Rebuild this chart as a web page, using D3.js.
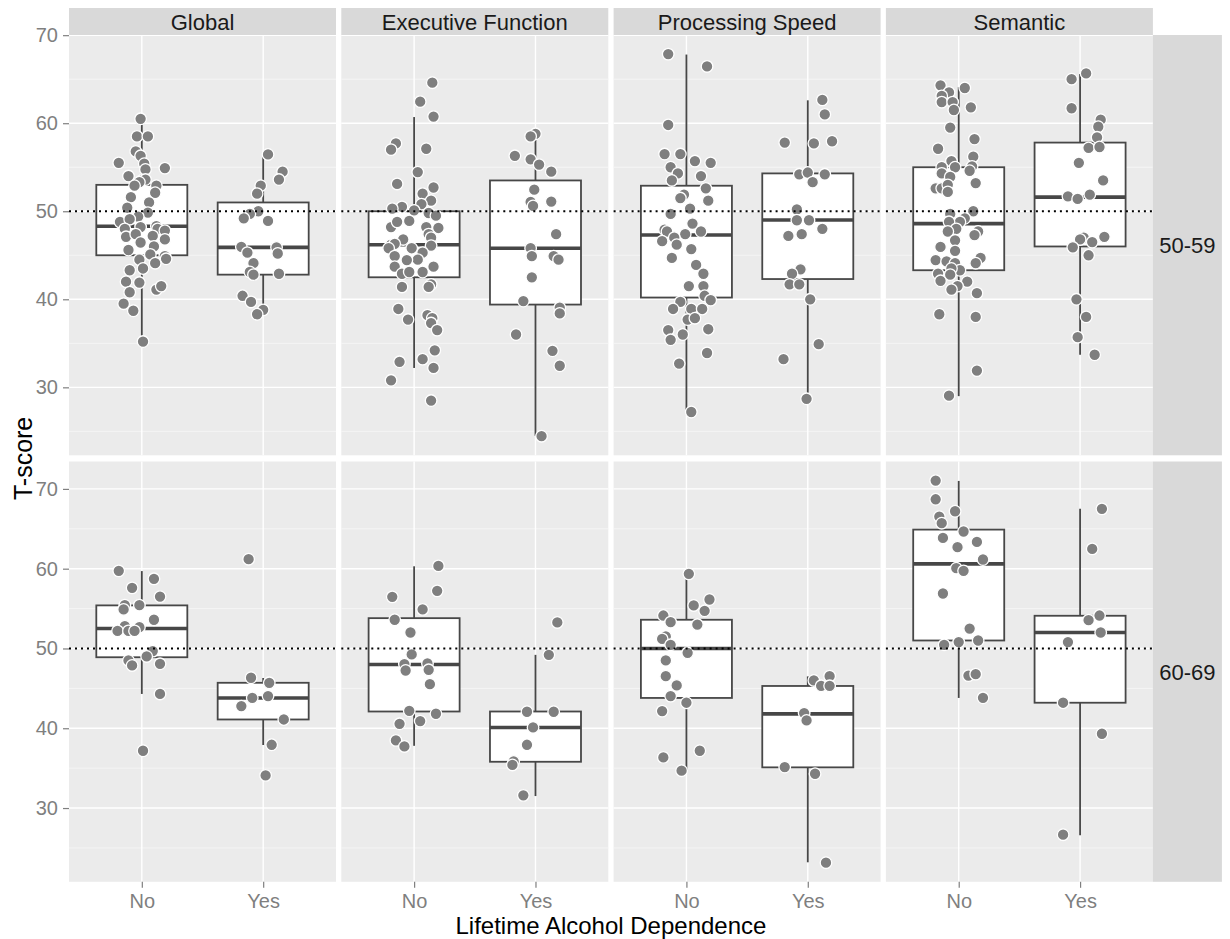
<!DOCTYPE html>
<html>
<head>
<meta charset="utf-8">
<script src="https://d3js.org/d3.v7.min.js"></script>
<style>
body { margin: 0; background: #fff; }
svg text { font-family: "Liberation Sans", Arial, Helvetica, sans-serif; }
</style>
</head>
<body>
<svg id="chart" width="1230" height="939"></svg>
<script>

var domains = ["Global", "Executive Function", "Processing Speed", "Semantic"];
var ageGroups = ["50-59", "60-69"];
var dependence = ["No", "Yes"];
var yTicks = [30, 40, 50, 60, 70];
var yMinorTicks = [25, 35, 45, 55, 65, 75];
var referenceScore = 50;

// box stats, domain by domain, No then Yes: [lower whisker, q1, median, q3, upper whisker]
var boxes5059 = [
    [35.2, 45.0, 48.3, 53.0, 60.5], [38.3, 42.8, 45.9, 51.0, 56.4],
    [32.2, 42.5, 46.2, 50.0, 60.7], [24.5, 39.4, 45.8, 53.5, 58.8],
    [27.2, 40.2, 47.3, 52.9, 67.8], [28.7, 42.3, 49.0, 54.3, 62.6],
    [29.0, 43.3, 48.6, 55.0, 64.1], [33.7, 46.0, 51.6, 57.8, 65.6]
];
var boxes6069 = [
    [44.3, 48.9, 52.5, 55.4, 59.7], [37.9, 41.1, 43.8, 45.7, 46.3],
    [37.8, 42.1, 48.0, 53.8, 60.3], [31.5, 35.8, 40.1, 42.1, 49.2],
    [34.8, 43.8, 50.0, 53.6, 59.3], [23.2, 35.1, 41.8, 45.3, 46.5],
    [43.8, 51.0, 60.6, 64.9, 71.0], [26.6, 43.2, 52.0, 54.1, 67.5]
];

// jittered subjects: [jitter, T-score]
var global5059No = [[-0.01,60.5],[-0.04,58.5],[0.05,58.5],[-0.05,56.8],[-0.01,56.3],[-0.19,55.5],[0.19,54.9],
    [0.02,55.4],[0.03,54.75],[-0.11,54.0],[0.0,53.5],[0.03,53.6],[-0.02,53.3],[0.12,52.9],[0.11,52.1],[-0.06,52.9],
    [-0.09,51.6],[0.06,51.0],[-0.12,50.4],[0.05,49.85],[-0.03,49.4],[-0.18,48.8],[-0.10,49.1],[-0.01,48.2],[-0.14,48.0],
    [0.12,48.3],[0.13,48.0],[0.19,47.8],[-0.13,47.1],[-0.05,47.4],[0.09,47.2],[0.19,46.8],[-0.01,46.45],[0.10,46.0],
    [-0.11,45.6],[0.07,45.1],[0.19,44.9],[0.20,44.6],[-0.02,44.5],[0.11,44.1],[0.01,43.5],[-0.10,43.3],[-0.13,42.0],
    [-0.02,41.9],[0.12,41.1],[0.16,41.5],[-0.10,40.8],[-0.15,39.5],[-0.07,38.7],[0.01,35.2]];
var global5059Yes = [[0.04,56.45],[0.16,54.5],[0.13,53.6],[-0.02,52.9],[-0.05,52.0],[-0.04,50.0],[-0.11,49.7],
    [-0.16,49.2],[0.04,48.9],[-0.18,45.96],[0.11,45.9],[0.12,45.2],[-0.13,45.3],[-0.08,44.1],[-0.11,43.1],[-0.08,42.8],
    [0.13,42.9],[-0.17,40.4],[-0.10,39.7],[0.0,38.8],[-0.05,38.3]];
var exec5059No = [[0.15,64.6],[0.05,62.45],[0.16,60.75],[-0.15,57.7],[-0.19,57.0],[0.10,57.1],[0.03,54.45],
    [-0.14,53.1],[0.16,52.7],[0.07,52.0],[0.14,51.2],[0.06,50.8],[-0.10,50.5],[-0.18,50.3],[0.0,50.1],[0.12,49.8],
    [0.18,49.5],[-0.04,48.9],[-0.19,48.2],[-0.14,48.8],[0.10,48.2],[0.20,48.1],[0.12,47.4],[0.14,47.0],[-0.09,46.8],
    [-0.19,46.2],[-0.16,46.3],[0.14,46.1],[-0.21,45.8],[-0.02,45.8],[0.07,45.3],[-0.16,44.9],[0.03,44.5],[-0.06,44.45],
    [-0.16,43.7],[0.16,43.7],[-0.10,42.9],[-0.04,43.1],[0.07,43.1],[0.14,41.7],[0.12,41.4],[-0.10,41.4],[-0.13,38.9],
    [-0.05,37.7],[0.11,38.2],[0.15,37.85],[0.14,37.3],[0.19,36.5],[0.17,34.2],[-0.12,32.9],[0.07,33.2],[0.16,32.2],
    [-0.19,30.8],[0.14,28.5]];
var exec5059Yes = [[0.0,58.8],[-0.04,58.5],[-0.17,56.3],[-0.04,55.9],[0.03,55.3],[0.13,54.5],[-0.01,52.45],
    [-0.04,51.05],[-0.02,50.6],[0.13,51.1],[0.17,47.4],[-0.04,45.8],[-0.03,44.9],[0.15,44.9],[0.19,44.5],[-0.03,42.5],
    [-0.10,39.8],[0.20,39.05],[0.20,38.4],[-0.16,36.0],[0.14,34.15],[0.20,32.45],[0.05,24.45]];
var speed5059No = [[-0.15,67.85],[0.17,66.45],[-0.15,59.8],[-0.18,56.5],[-0.05,56.5],[0.07,55.7],[0.20,55.5],
    [-0.13,55.0],[-0.07,54.3],[0.12,54.0],[-0.12,53.5],[0.16,52.6],[-0.02,51.9],[-0.05,51.5],[0.18,51.2],[0.03,50.3],
    [-0.13,49.7],[0.05,48.6],[-0.18,47.9],[-0.16,47.7],[-0.01,47.4],[0.12,47.7],[-0.10,47.0],[-0.20,46.6],[-0.08,46.2],
    [0.04,45.7],[-0.12,44.7],[0.08,43.9],[0.14,42.9],[0.02,41.5],[0.14,41.5],[0.15,40.4],[0.20,39.9],[-0.05,39.7],
    [-0.11,38.9],[0.04,38.9],[0.13,38.9],[0.01,37.7],[0.07,37.85],[-0.15,36.5],[-0.03,36.0],[0.18,36.6],[-0.13,35.4],
    [0.17,33.9],[-0.06,32.7],[0.04,27.2]];
var speed5059Yes = [[0.12,62.65],[0.14,61.0],[-0.19,57.8],[0.05,57.7],[0.20,57.95],[-0.07,54.2],[0.0,54.4],
    [0.14,54.2],[0.04,53.3],[-0.09,50.2],[-0.09,48.98],[0.01,48.98],[0.12,48.0],[-0.16,47.2],[-0.05,47.4],[-0.06,43.4],
    [-0.13,42.9],[-0.15,41.7],[-0.07,41.7],[0.02,40.0],[0.09,34.9],[-0.20,33.2],[-0.01,28.7]];
var semantic5059No = [[-0.15,64.3],[0.05,64.0],[-0.08,63.5],[-0.14,63.1],[-0.14,62.4],[-0.05,62.4],[-0.04,61.5],
    [0.10,61.8],[-0.07,59.5],[0.13,58.2],[-0.17,57.1],[0.12,56.2],[-0.06,55.7],[-0.03,55.0],[-0.14,55.0],[0.11,55.1],
    [0.09,54.6],[-0.14,54.3],[-0.07,53.9],[0.14,53.2],[-0.19,52.6],[-0.14,52.6],[-0.09,53.0],[-0.09,52.2],[-0.07,49.7],
    [0.12,50.0],[0.05,49.2],[0.01,48.8],[-0.08,48.8],[-0.02,48.0],[-0.09,47.7],[0.16,47.7],[0.13,47.3],[-0.03,46.7],
    [-0.15,45.95],[-0.03,45.5],[-0.19,44.45],[-0.10,44.3],[-0.03,44.1],[0.18,44.7],[0.14,44.1],[0.01,43.3],[-0.06,43.5],
    [-0.17,42.9],[-0.15,42.1],[-0.07,42.8],[0.07,42.0],[-0.01,41.5],[-0.06,41.1],[0.15,40.7],[-0.16,38.3],[0.14,38.0],
    [0.15,31.9],[-0.08,29.05]];
var semantic5059Yes = [[0.05,65.65],[-0.07,65.0],[-0.07,61.7],[0.17,60.4],[0.15,59.6],[0.14,58.4],[0.07,57.2],
    [0.16,57.3],[-0.01,55.5],[0.19,53.5],[-0.10,51.7],[0.08,51.9],[-0.02,51.4],[0.03,47.0],[0.0,46.8],[0.10,46.5],
    [0.20,47.1],[-0.06,45.9],[0.07,45.0],[-0.03,40.0],[0.05,38.0],[-0.02,35.7],[0.12,33.7]];

var global6069No = [[-0.19,59.73],[0.10,58.73],[-0.08,57.6],[0.15,56.5],[-0.14,55.43],[-0.02,55.43],[-0.15,54.9],
    [0.10,53.6],[-0.14,52.8],[-0.02,52.67],[-0.20,52.2],[-0.11,52.2],[-0.06,52.2],[0.09,49.67],[0.04,49.0],
    [-0.11,48.5],[-0.08,47.87],[0.15,48.08],[0.15,44.3],[0.01,37.18]];
var global6069Yes = [[-0.12,61.19],[-0.10,46.33],[0.05,45.7],[-0.09,43.82],[0.04,44.03],[-0.18,42.78],
    [0.17,41.1],[0.07,37.93],[0.02,34.09]];
var exec6069No = [[0.20,60.35],[0.19,57.22],[-0.18,56.47],[0.07,54.9],[-0.16,53.6],[-0.03,52.0],[-0.02,49.25],
    [-0.08,48.04],[0.11,48.12],[-0.07,47.24],[0.12,47.33],[0.13,45.53],[-0.04,42.19],[0.18,41.82],[-0.12,40.56],
    [0.05,40.9],[-0.15,38.48],[-0.08,37.72]];
var exec6069Yes = [[0.18,53.26],[0.11,49.2],[-0.07,42.07],[0.15,42.07],[-0.02,40.1],[-0.07,37.93],[-0.18,35.85],
    [-0.19,35.4],[-0.10,31.59]];
var speed6069No = [[0.02,59.35],[0.19,56.14],[0.06,55.39],[0.15,54.72],[-0.19,54.13],[-0.13,53.3],[0.09,53.0],
    [-0.17,51.5],[-0.20,51.2],[-0.13,50.46],[0.01,49.46],[-0.17,48.5],[-0.17,46.53],[-0.08,45.37],[-0.13,44.03],
    [0.0,43.2],[-0.20,42.15],[0.11,37.18],[-0.19,36.35],[-0.04,34.68]];
var speed6069Yes = [[0.05,45.99],[0.18,46.53],[0.11,45.32],[0.18,45.32],[-0.03,41.9],[-0.01,40.98],[-0.19,35.14],
    [0.06,34.3],[0.15,23.15]];
var semantic6069No = [[-0.19,71.04],[-0.19,68.7],[-0.03,67.2],[-0.16,66.53],[-0.14,65.7],[0.04,64.66],[-0.13,63.86],
    [0.15,63.36],[-0.01,62.7],[0.20,61.15],[-0.02,60.06],[0.04,59.73],[-0.13,56.89],[0.09,52.5],[-0.12,50.46],
    [0.0,50.8],[0.16,51.0],[0.08,46.6],[0.14,46.78],[0.20,43.82]];
var semantic6069Yes = [[0.18,67.5],[0.10,62.48],[0.16,54.13],[0.07,53.55],[0.17,52.0],[-0.10,50.8],[-0.14,43.2],
    [0.18,39.31],[-0.14,26.66]];

// rows of the facet grid
var rows = [
    {age: ageGroups[0], boxes: boxes5059, points: [global5059No, global5059Yes, exec5059No, exec5059Yes,
        speed5059No, speed5059Yes, semantic5059No, semantic5059Yes]},
    {age: ageGroups[1], boxes: boxes6069, points: [global6069No, global6069Yes, exec6069No, exec6069Yes,
        speed6069No, speed6069Yes, semantic6069No, semantic6069Yes]}
];

var panelLeft = 69, panelW = 267, panelGap = 5.3;
var rowTop = [35, 461.5], rowH = 420.3;
var stripTop = 8, stripH = 27;
var stripRightW = 69;
var greyText = "#7f7f7f", boxLine = "#474747";

var svg = d3.select("#chart");

var x = d3.scalePoint().domain(dependence).range([0, panelW]).padding(0.6);
var step = x.step();

function panelX(i) {
    return panelLeft + i * (panelW + panelGap);
}

rows.forEach(function (row, r) {
    // free y scale per row, ggplot style 5% expansion
    var all = [];
    row.points.forEach(function (p) { p.forEach(function (d) { all.push(d[1]); }); });
    row.boxes.forEach(function (b) { all.push(b[0], b[4]); });
    var ext = d3.extent(all);
    var pad = (ext[1] - ext[0]) * 0.05;
    var y = d3.scaleLinear().domain([ext[0] - pad, ext[1] + pad]).range([rowH, 0]);

    domains.forEach(function (dom, c) {
        var g = svg.append("g").attr("transform", "translate(" + panelX(c) + "," + rowTop[r] + ")");

        g.append("rect").attr("width", panelW).attr("height", rowH).attr("fill", "#ebebeb");

        g.selectAll(".minor").data(yMinorTicks.filter(function (t) { return y(t) > 0 && y(t) < rowH; }))
            .enter().append("line")
            .attr("x1", 0).attr("x2", panelW)
            .attr("y1", function (t) { return y(t); }).attr("y2", function (t) { return y(t); })
            .attr("stroke", "#f7f7f7").attr("stroke-width", 0.8);

        g.selectAll(".major").data(yTicks)
            .enter().append("line")
            .attr("x1", 0).attr("x2", panelW)
            .attr("y1", function (t) { return y(t); }).attr("y2", function (t) { return y(t); })
            .attr("stroke", "#fff").attr("stroke-width", 1.4);

        g.selectAll(".vmajor").data(dependence)
            .enter().append("line")
            .attr("x1", function (d) { return x(d); }).attr("x2", function (d) { return x(d); })
            .attr("y1", 0).attr("y2", rowH)
            .attr("stroke", "#fff").attr("stroke-width", 1.4);

        // boxplots
        dependence.forEach(function (grp, k) {
            var b = row.boxes[c * 2 + k];
            var cx = x(grp), half = step * 0.75 / 2;
            g.append("line").attr("x1", cx).attr("x2", cx).attr("y1", y(b[4])).attr("y2", y(b[3]))
                .attr("stroke", boxLine).attr("stroke-width", 1.8);
            g.append("line").attr("x1", cx).attr("x2", cx).attr("y1", y(b[1])).attr("y2", y(b[0]))
                .attr("stroke", boxLine).attr("stroke-width", 1.8);
            g.append("rect").attr("x", cx - half).attr("width", half * 2)
                .attr("y", y(b[3])).attr("height", y(b[1]) - y(b[3]))
                .attr("fill", "#fff").attr("stroke", boxLine).attr("stroke-width", 1.8);
            g.append("line").attr("x1", cx - half).attr("x2", cx + half).attr("y1", y(b[2])).attr("y2", y(b[2]))
                .attr("stroke", boxLine).attr("stroke-width", 3.6);
        });

        // jittered points
        dependence.forEach(function (grp, k) {
            g.selectAll(".pt" + k).data(row.points[c * 2 + k])
                .enter().append("circle")
                .attr("cx", function (d) { return x(grp) + d[0] * step; })
                .attr("cy", function (d) { return y(d[1]); })
                .attr("r", 5.8)
                .attr("fill", "#7f7f7f").attr("stroke", "#fff").attr("stroke-width", 1.3);
        });

        g.append("line").attr("x1", 0).attr("x2", panelW)
            .attr("y1", y(referenceScore)).attr("y2", y(referenceScore))
            .attr("stroke", "#000").attr("stroke-width", 2).attr("stroke-dasharray", "2,4");
    });

    // y axis
    var ay = svg.append("g").attr("transform", "translate(" + panelLeft + "," + rowTop[r] + ")")
        .call(d3.axisLeft(y).tickValues(yTicks).tickSize(6).tickPadding(5));
    ay.select(".domain").remove();
    ay.selectAll("line").attr("stroke", greyText).attr("stroke-width", 1.2);
    ay.selectAll("text").attr("fill", greyText).style("font-size", "20px")
        .style("font-family", "'Liberation Sans', Arial, sans-serif");

    // row strip
    var rx = panelX(domains.length - 1) + panelW;
    svg.append("rect").attr("x", rx).attr("y", rowTop[r]).attr("width", stripRightW).attr("height", rowH)
        .attr("fill", "#d9d9d9");
    svg.append("text").attr("x", rx + stripRightW / 2).attr("y", rowTop[r] + rowH / 2 + 8)
        .attr("text-anchor", "middle").style("font-size", "22px").attr("fill", "#1a1a1a").text(row.age);
});

// column strips and x axes
domains.forEach(function (dom, c) {
    svg.append("rect").attr("x", panelX(c)).attr("y", stripTop).attr("width", panelW).attr("height", stripH)
        .attr("fill", "#d9d9d9");
    svg.append("text").attr("x", panelX(c) + panelW / 2).attr("y", stripTop + 22)
        .attr("text-anchor", "middle").style("font-size", "22px").attr("fill", "#1a1a1a").text(dom);

    var ax = svg.append("g").attr("transform", "translate(" + panelX(c) + "," + (rowTop[1] + rowH) + ")")
        .call(d3.axisBottom(x).tickSize(6).tickPadding(6));
    ax.select(".domain").remove();
    ax.selectAll("line").attr("stroke", greyText).attr("stroke-width", 1.2);
    ax.selectAll("text").attr("fill", greyText).style("font-size", "20px")
        .style("font-family", "'Liberation Sans', Arial, sans-serif");
});

// axis titles
var plotMid = (panelLeft + panelX(domains.length - 1) + panelW) / 2;
svg.append("text").attr("x", plotMid).attr("y", 934).attr("text-anchor", "middle")
    .style("font-size", "24px").attr("fill", "#000").text("Lifetime Alcohol Dependence");
svg.append("text").attr("transform", "translate(32," + (rowTop[0] + (rowTop[1] + rowH - rowTop[0]) / 2) + ") rotate(-90)")
    .attr("text-anchor", "middle").style("font-size", "25px").attr("fill", "#000").text("T-score");

</script>
</body>
</html>
